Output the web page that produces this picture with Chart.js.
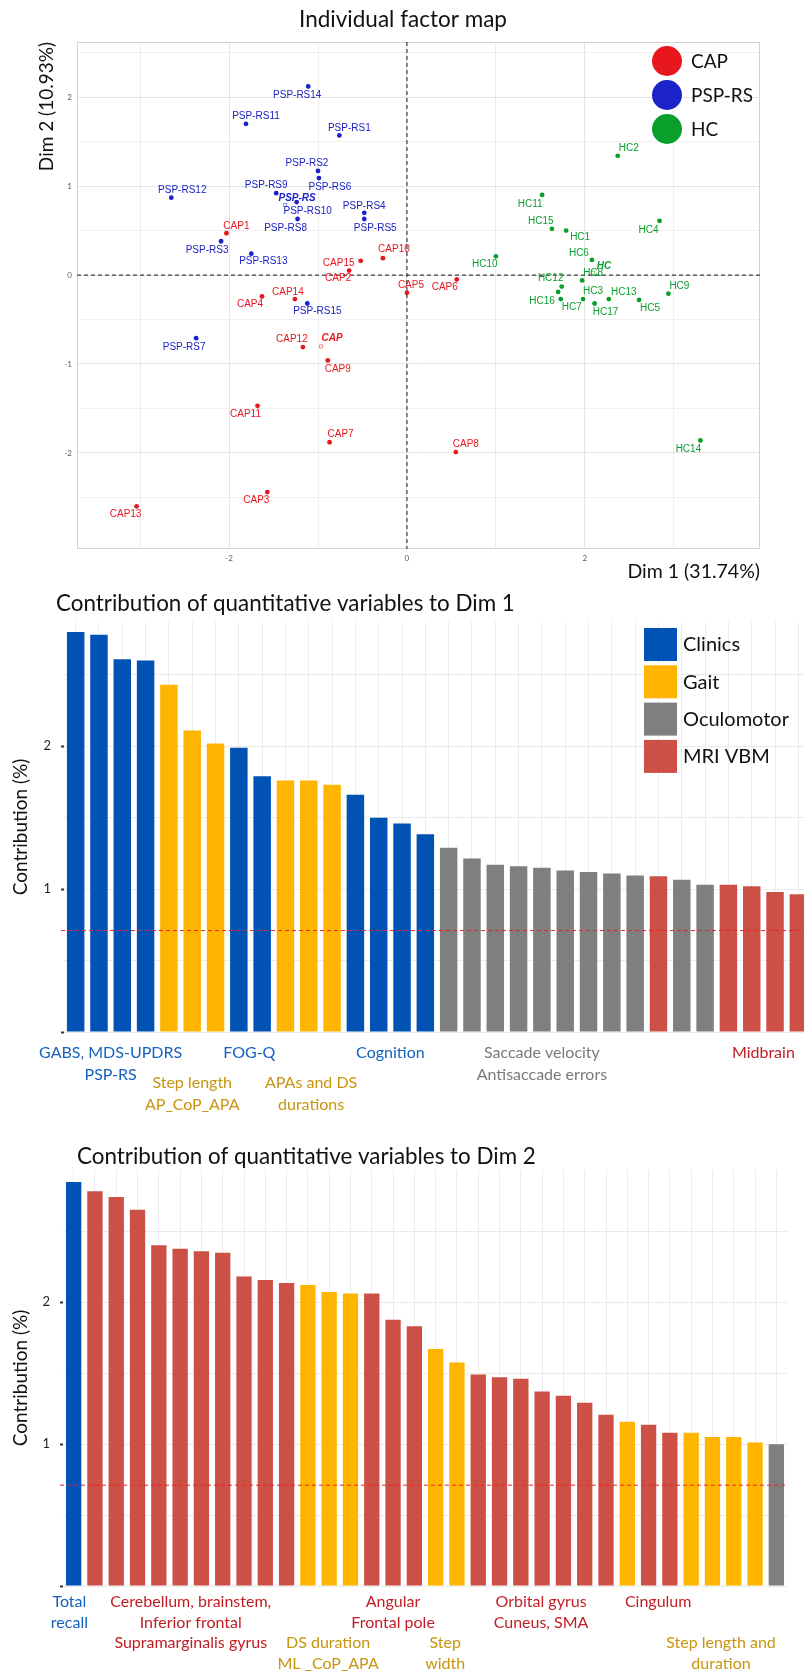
<!DOCTYPE html>
<html>
<head>
<meta charset="utf-8">
<title>Individual factor map and variable contributions</title>
<script src="https://cdn.jsdelivr.net/npm/chart.js@4.4.1/dist/chart.umd.min.js"></script>
<style>
  html, body { margin: 0; padding: 0; background: #fff; }
  body { width: 804px; height: 1671px; overflow: hidden; position: relative; }
  canvas { position: absolute; left: 0; }
</style>
</head>
<body>
<canvas id="mapaIndividuos" width="804" height="590" style="top:0"></canvas>
<canvas id="contribDim1" width="830" height="540" style="top:590px"></canvas>
<canvas id="contribDim2" width="804" height="541" style="top:1130px"></canvas>
<script>
Chart.defaults.font.family = "Lato, 'Open Sans', sans-serif";
Chart.defaults.animation = false;

// --- individual coordinates on Dim 1 / Dim 2 ---
const capNames = ['CAP1','CAP2','CAP3','CAP4','CAP5','CAP6','CAP7','CAP8','CAP9','CAP10','CAP11','CAP12','CAP13','CAP14','CAP15'];
const capDim1 = [-2.03, -0.65, -1.57, -1.63, 0.00, 0.56, -0.87, 0.55, -0.89, -0.27, -1.68, -1.17, -3.04, -1.26, -0.52];
const capDim2 = [0.47, 0.05, -2.44, -0.24, -0.20, -0.05, -1.88, -1.99, -0.96, 0.19, -1.47, -0.81, -2.60, -0.27, 0.16];

const pspNames = ['PSP-RS1','PSP-RS2','PSP-RS3','PSP-RS4','PSP-RS5','PSP-RS6','PSP-RS7','PSP-RS8','PSP-RS9','PSP-RS10','PSP-RS11','PSP-RS12','PSP-RS13','PSP-RS14','PSP-RS15'];
const pspDim1 = [-0.76, -1.00, -2.09, -0.48, -0.48, -0.99, -2.37, -1.23, -1.47, -1.24, -1.81, -2.65, -1.75, -1.11, -1.12];
const pspDim2 = [1.57, 1.17, 0.38, 0.70, 0.63, 1.09, -0.71, 0.63, 0.92, 0.82, 1.70, 0.87, 0.24, 2.12, -0.32];

const hcNames = ['HC1','HC2','HC3','HC4','HC5','HC6','HC7','HC8','HC9','HC10','HC11','HC12','HC13','HC14','HC15','HC16','HC17'];
const hcDim1 = [1.79, 2.37, 1.98, 2.84, 2.61, 2.08, 1.73, 1.97, 2.94, 1.00, 1.52, 1.74, 2.27, 3.30, 1.63, 1.70, 2.11];
const hcDim2 = [0.50, 1.34, -0.27, 0.61, -0.28, 0.17, -0.27, -0.06, -0.21, 0.21, 0.90, -0.13, -0.27, -1.86, 0.52, -0.19, -0.32];

// --- contributions (%) of quantitative variables ---
// domain codes: C = Clinics, G = Gait, O = Oculomotor, M = MRI VBM
const dim1Contrib = [2.80, 2.78, 2.61, 2.60, 2.43, 2.11, 2.02, 1.99, 1.79, 1.76, 1.76, 1.73, 1.66, 1.50, 1.46, 1.385,
                     1.29, 1.215, 1.17, 1.16, 1.15, 1.13, 1.12, 1.11, 1.095, 1.09, 1.065, 1.03, 1.03, 1.02, 0.98, 0.965];
const dim1Domain = ['C','C','C','C','G','G','G','C','C','G','G','G','C','C','C','C',
                    'O','O','O','O','O','O','O','O','O','M','O','O','M','M','M','M'];

const dim2Contrib = [2.845, 2.78, 2.74, 2.65, 2.40, 2.375, 2.357, 2.347, 2.18, 2.155, 2.134, 2.12, 2.07, 2.06, 2.06, 1.875, 1.83,
                     1.67, 1.575, 1.49, 1.47, 1.46, 1.37, 1.34, 1.29, 1.206, 1.157, 1.136, 1.08, 1.08, 1.05, 1.05, 1.01, 0.998];
const dim2Domain = ['C','M','M','M','M','M','M','M','M','M','M','G','G','G','M','M','M',
                    'G','G','M','M','M','M','M','M','M','G','M','M','G','G','G','G','O'];

const expectedContrib = 0.71;

// ---------- styles ----------
const groupStyle = {
  'CAP':    '#e8161d',
  'PSP-RS': '#1a22c8',
  'HC':     '#0a9e2a'
};
const domainStyle = {
  C: { label: 'Clinics',    bar: '#0052b4', text: '#1461bf' },
  G: { label: 'Gait',       bar: '#ffb500', text: '#c8950f' },
  O: { label: 'Oculomotor', bar: '#7f7f7f', text: '#7a7a7a' },
  M: { label: 'MRI VBM',    bar: '#cd5047', text: '#c21d25' }
};

// label offsets (px) from each point, ggrepel-like
const labelNudge = {
  'CAP1':[10,-7],'CAP2':[-11,8],'CAP3':[-11,8],'CAP4':[-12,8],'CAP5':[4,-8],'CAP6':[-12,8],'CAP7':[11,-8],'CAP8':[10,-8],
  'CAP9':[10,9],'CAP10':[11,-9],'CAP11':[-12,8],'CAP12':[-11,-8],'CAP13':[-11,8],'CAP14':[-7,-7],'CAP15':[-22,2],
  'PSP-RS1':[10,-7],'PSP-RS2':[-11,-8],'PSP-RS3':[-14,9],'PSP-RS4':[0,-7],'PSP-RS5':[11,9],'PSP-RS6':[11,9],'PSP-RS7':[-12,9],
  'PSP-RS8':[-12,9],'PSP-RS9':[-10,-8],'PSP-RS10':[11,9],'PSP-RS11':[10,-8],'PSP-RS12':[11,-7],'PSP-RS13':[12,8],
  'PSP-RS14':[-11,9],'PSP-RS15':[10,8],
  'HC1':[14,7],'HC2':[11,-8],'HC3':[10,-8],'HC4':[-11,9],'HC5':[11,8],'HC6':[-13,-7],'HC7':[11,8],'HC8':[11,-7],'HC9':[11,-7],
  'HC10':[-11,8],'HC11':[-12,9],'HC12':[-11,-8],'HC13':[15,-7],'HC14':[-12,9],'HC15':[-11,-8],'HC16':[-16,9],'HC17':[11,9],
  'CAP*':[11,-8],'PSP-RS*':[12,-7],'HC*':[11,-7]
};

const isWhole = v => Math.abs(v - Math.round(v)) < 1e-6;
const isHalf = v => Math.abs(v * 2 - Math.round(v * 2)) < 1e-6;
const mean = a => a.reduce((s, v) => s + v, 0) / a.length;
const toPoints = (xs, ys) => xs.map((x, i) => ({ x: x, y: ys[i] }));

// ================= Individual factor map =================
const grupos = [
  { name: 'CAP',    names: capNames, d1: capDim1, d2: capDim2 },
  { name: 'PSP-RS', names: pspNames, d1: pspDim1, d2: pspDim2 },
  { name: 'HC',     names: hcNames,  d1: hcDim1,  d2: hcDim2 }
];

const mapDatasets = grupos.map(g => ({
  label: g.name,
  data: toPoints(g.d1, g.d2),
  names: g.names,
  textColor: groupStyle[g.name],
  backgroundColor: groupStyle[g.name],
  pointRadius: 2.4,
  pointBorderWidth: 0
})).concat(grupos.map(g => ({
  label: g.name + ' mean',
  data: [{ x: mean(g.d1), y: mean(g.d2) }],
  names: [g.name],
  centroid: true,
  textColor: groupStyle[g.name],
  pointStyle: 'rect',
  pointRadius: 2.2,
  backgroundColor: 'rgba(0,0,0,0)',
  borderColor: groupStyle[g.name] + '88',
  pointBorderWidth: 1
})));

const pointLabels = {
  id: 'pointLabels',
  afterDatasetsDraw(chart) {
    const ctx = chart.ctx;
    ctx.save();
    ctx.textAlign = 'center';
    ctx.textBaseline = 'middle';
    chart.data.datasets.forEach((ds, di) => {
      ctx.font = (ds.centroid ? 'italic bold ' : '') + "10px 'Liberation Sans', Arial, sans-serif";
      ctx.fillStyle = ds.textColor;
      chart.getDatasetMeta(di).data.forEach((el, i) => {
        const key = ds.centroid ? ds.names[i] + '*' : ds.names[i];
        const off = labelNudge[key] || [10, -8];
        ctx.fillText(ds.names[i], el.x + off[0], el.y + off[1]);
      });
    });
    ctx.restore();
  }
};

const mapDecor = {
  id: 'mapDecor',
  beforeDatasetsDraw(chart) {
    const { ctx, chartArea: a, scales: { x, y } } = chart;
    const x0 = x.getPixelForValue(0), y0 = y.getPixelForValue(0);
    ctx.save();
    ctx.strokeStyle = '#d2d2d2';
    ctx.lineWidth = 1;
    ctx.strokeRect(a.left + 0.5, a.top + 0.5, a.width - 1, a.height - 1);
    ctx.setLineDash([4, 3]);
    ctx.strokeStyle = '#3c3c3c';
    ctx.lineWidth = 1.2;
    ctx.beginPath();
    ctx.moveTo(x0, a.top); ctx.lineTo(x0, a.bottom);
    ctx.moveTo(a.left, y0); ctx.lineTo(a.right, y0);
    ctx.stroke();
    ctx.restore();
  },
  afterDraw(chart) {
    const ctx = chart.ctx;
    ctx.save();
    ctx.fillStyle = '#111';
    ctx.font = "22.5px Lato, sans-serif";
    ctx.textAlign = 'center';
    ctx.textBaseline = 'middle';
    ctx.fillText('Individual factor map', 403, 20);
    // legend
    ctx.textAlign = 'left';
    ctx.font = "19px Lato, sans-serif";
    grupos.forEach((g, i) => {
      const cy = 61 + i * 34;
      ctx.fillStyle = groupStyle[g.name];
      ctx.beginPath();
      ctx.arc(667, cy, 15, 0, Math.PI * 2);
      ctx.fill();
      ctx.fillStyle = '#111';
      ctx.fillText(g.name, 691, cy + 1);
    });
    ctx.restore();
  }
};

new Chart(document.getElementById('mapaIndividuos'), {
  type: 'scatter',
  data: { datasets: mapDatasets },
  options: {
    responsive: false,
    layout: { padding: { top: 42, right: 44, left: 0, bottom: 0 } },
    plugins: { legend: { display: false }, tooltip: { enabled: false } },
    scales: {
      x: {
        min: -3.71, max: 3.97,
        border: { display: false },
        grid: { drawTicks: false, color: c => (Math.round(c.tick.value) % 2 === 0 ? '#e4e4e4' : '#eeeeee') },
        ticks: { stepSize: 1, padding: 5, color: '#5a5a5a', font: { size: 8 },
                 callback: v => (Math.round(v) % 2 === 0 ? String(Math.round(v)) : '') },
        afterBuildTicks: s => { s.ticks = s.ticks.filter(t => isWhole(t.value)); },
        afterFit: s => { s.height = 41; },
        title: { display: true, text: 'Dim 1 (31.74%)', align: 'end', color: '#111',
                 font: { size: 19.5 }, padding: { top: 0, bottom: 7 } }
      },
      y: {
        min: -3.08, max: 2.62,
        border: { display: false },
        grid: { drawTicks: false, color: c => (isWhole(c.tick.value) ? '#e4e4e4' : '#f0f0f0') },
        ticks: { stepSize: 0.5, padding: 5, color: '#5a5a5a', font: { size: 8 },
                 callback: v => (isWhole(v) ? String(Math.round(v)) : '') },
        afterBuildTicks: s => { s.ticks = s.ticks.filter(t => isHalf(t.value)); },
        afterFit: s => { s.width = 77; },
        title: { display: true, text: 'Dim 2 (10.93%)', align: 'end', color: '#111',
                 font: { size: 19 }, padding: { top: 35, bottom: 0 } }
      }
    }
  },
  plugins: [mapDecor, pointLabels]
});

// ================= Contribution bar charts =================
function domainDatasets(values, domains, barPct) {
  return ['C', 'G', 'O', 'M'].map(code => ({
    label: domainStyle[code].label,
    code: code,
    data: values.map((v, i) => (domains[i] === code ? v : null)),
    backgroundColor: domainStyle[code].bar,
    borderWidth: 0,
    barPercentage: barPct,
    categoryPercentage: 1
  }));
}

function contribPlugins(cfg) {
  return [{
    id: 'contribDecor',
    afterDatasetsDraw(chart) {
      const { ctx, chartArea: a, scales: { y } } = chart;
      const yr = y.getPixelForValue(expectedContrib);
      ctx.save();
      ctx.setLineDash([4, 3]);
      ctx.strokeStyle = '#e2262c';
      ctx.lineWidth = 1;
      ctx.beginPath();
      ctx.moveTo(a.left - 3, yr); ctx.lineTo(a.right, yr);
      ctx.stroke();
      ctx.restore();
    },
    afterDraw(chart) {
      const { ctx, chartArea: a, scales: { x } } = chart;
      ctx.save();
      ctx.fillStyle = '#111';
      ctx.font = "22.4px Lato, sans-serif";
      ctx.textAlign = 'left';
      ctx.textBaseline = 'middle';
      ctx.fillText(cfg.title, cfg.titleX, cfg.titleY);
      if (cfg.legend) {
        ctx.font = "20px Lato, sans-serif";
        chart.data.datasets.forEach((ds, i) => {
          const top = cfg.legend.y + i * 37.3;
          ctx.fillStyle = ds.backgroundColor;
          ctx.fillRect(cfg.legend.x, top, 33, 33);
          ctx.fillStyle = '#111';
          ctx.fillText(ds.label, cfg.legend.x + 39, top + 17);
        });
      }
      ctx.font = "16px Lato, sans-serif";
      ctx.textAlign = 'center';
      cfg.notes.forEach(n => {
        ctx.fillStyle = domainStyle[n.domain].text;
        const px = x.getPixelForValue(n.at);
        n.lines.forEach((line, k) => ctx.fillText(line, px, a.bottom + n.dy + k * cfg.lineGap));
      });
      ctx.restore();
    }
  }];
}

function contribOptions(cfg) {
  return {
    responsive: false,
    layout: { padding: { top: cfg.top, right: cfg.right, left: 0, bottom: 0 } },
    plugins: { legend: { display: false }, tooltip: { enabled: false } },
    scales: {
      x: {
        stacked: true,
        offset: true,
        border: { display: false },
        grid: { offset: false, drawTicks: false, color: '#ececec' },
        ticks: { display: false },
        afterFit: s => { s.height = cfg.axisHeight; }
      },
      y: {
        min: 0, max: cfg.yMax,
        border: { display: false },
        grid: { color: '#eaeaea', tickLength: 3, tickWidth: 2,
                tickColor: c => (isWhole(c.tick.value) ? '#333' : 'rgba(0,0,0,0)') },
        ticks: { stepSize: 0.5, padding: 10, color: '#222', font: { size: 13 },
                 callback: v => (v === 1 || v === 2 ? String(v) : '') },
        afterBuildTicks: s => { s.ticks = s.ticks.filter(t => isHalf(t.value)); },
        afterFit: s => { s.width = cfg.axisWidth; },
        title: { display: true, text: 'Contribution (%)', color: '#111',
                 font: { size: 19 }, padding: { top: 9, bottom: 0 } }
      }
    }
  };
}

const dim1Notes = [
  { lines: ['GABS, MDS-UPDRS', 'PSP-RS'], at: 1.5, dy: 21, domain: 'C' },
  { lines: ['Step length', 'AP_CoP_APA'], at: 5.0, dy: 51, domain: 'G' },
  { lines: ['FOG-Q'], at: 7.45, dy: 21, domain: 'C' },
  { lines: ['APAs and DS', 'durations'], at: 10.1, dy: 51, domain: 'G' },
  { lines: ['Cognition'], at: 13.5, dy: 21, domain: 'C' },
  { lines: ['Saccade velocity', 'Antisaccade errors'], at: 20, dy: 21, domain: 'O' },
  { lines: ['Midbrain'], at: 29.5, dy: 21, domain: 'M' }
];

const dim2Notes = [
  { lines: ['Total', 'recall'], at: -0.2, dy: 16, domain: 'C' },
  { lines: ['Cerebellum, brainstem,', 'Inferior frontal', 'Supramarginalis gyrus'], at: 5.5, dy: 16, domain: 'M' },
  { lines: ['DS duration', 'ML _CoP_APA'], at: 11.95, dy: 57, domain: 'G' },
  { lines: ['Angular', 'Frontal pole'], at: 15, dy: 16, domain: 'M' },
  { lines: ['Step', 'width'], at: 17.45, dy: 57, domain: 'G' },
  { lines: ['Orbital gyrus', 'Cuneus, SMA'], at: 21.95, dy: 16, domain: 'M' },
  { lines: ['Cingulum'], at: 27.45, dy: 16, domain: 'M' },
  { lines: ['Step length and', 'duration'], at: 30.4, dy: 57, domain: 'G' }
];

new Chart(document.getElementById('contribDim1'), {
  type: 'bar',
  data: { labels: dim1Contrib.map((v, i) => 'D1-' + (i + 1)), datasets: domainDatasets(dim1Contrib, dim1Domain, 0.75) },
  options: contribOptions({ top: 32, right: 20, axisWidth: 64, axisHeight: 98, yMax: 2.87 }),
  plugins: contribPlugins({ title: 'Contribution of quantitative variables to Dim 1', titleX: 56, titleY: 14,
                            legend: { x: 644, y: 38 }, notes: dim1Notes, lineGap: 21.5 })
});

new Chart(document.getElementById('contribDim2'), {
  type: 'bar',
  data: { labels: dim2Contrib.map((v, i) => 'D2-' + (i + 1)), datasets: domainDatasets(dim2Contrib, dim2Domain, 0.72) },
  options: contribOptions({ top: 40, right: 17, axisWidth: 63, axisHeight: 85, yMax: 2.93 }),
  plugins: contribPlugins({ title: 'Contribution of quantitative variables to Dim 2', titleX: 77, titleY: 27,
                            legend: null, notes: dim2Notes, lineGap: 20.5 })
});
</script>
</body>
</html>
